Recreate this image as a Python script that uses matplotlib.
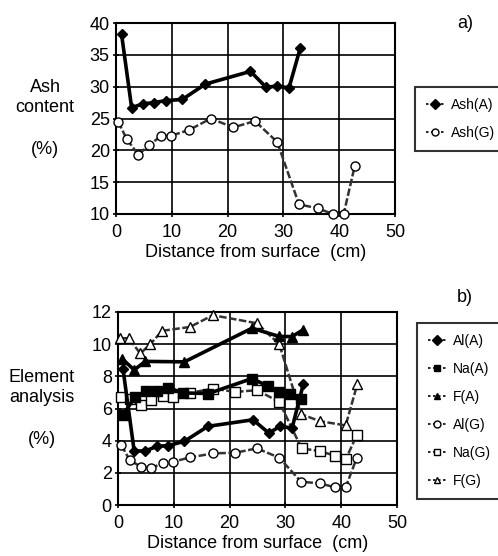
import matplotlib
matplotlib.use("Agg")
import matplotlib.pyplot as plt
from matplotlib.lines import Line2D

plt.rcParams['font.family'] = ['Liberation Sans', 'DejaVu Sans']

# ---- data (a) ----
ash_a_x = [1.0, 2.8, 4.8, 6.8, 8.9, 11.9, 16.0, 24.1, 26.9, 28.9, 31.0, 33.0]
ash_a_y = [38.2, 26.7, 27.3, 27.5, 27.8, 28.0, 30.4, 32.4, 29.9, 30.1, 29.8, 36.0]
ash_g_x = [0.4, 1.9, 4.0, 5.9, 8.0, 9.9, 13.1, 17.0, 21.0, 24.9, 28.9, 32.8, 36.2, 38.8, 40.8, 42.8]
ash_g_y = [24.5, 21.8, 19.3, 20.8, 22.2, 22.3, 23.2, 25.0, 23.6, 24.6, 21.3, 11.5, 10.9, 10.0, 10.0, 17.6]

# ---- data (b) ----
al_a_x = [0.9, 2.9, 4.9, 7.0, 9.0, 11.9, 16.1, 24.2, 27.0, 29.1, 31.2, 33.2]
al_a_y = [8.45, 3.36, 3.36, 3.65, 3.69, 3.96, 4.89, 5.3, 4.48, 4.89, 4.79, 7.5]
na_a_x = [0.9, 3.0, 5.1, 7.0, 9.0, 11.6, 16.2, 24.0, 26.8, 28.9, 30.8, 32.8]
na_a_y = [5.59, 6.7, 7.1, 7.1, 7.3, 6.97, 6.93, 7.86, 7.41, 7.03, 6.89, 6.62]
f_a_x = [0.8, 2.9, 4.9, 11.9, 24.0, 28.9, 31.2, 33.2]
f_a_y = [9.07, 8.4, 8.93, 8.9, 10.99, 10.48, 10.47, 10.9]
al_g_x = [0.6, 2.1, 4.1, 6.0, 8.0, 9.9, 12.9, 17.1, 21.0, 24.9, 28.9, 32.8, 36.2, 38.9, 40.8, 42.8]
al_g_y = [3.72, 2.79, 2.38, 2.28, 2.63, 2.69, 2.96, 3.21, 3.25, 3.52, 2.94, 1.45, 1.34, 1.1, 1.1, 2.94]
na_g_x = [0.6, 2.1, 4.1, 6.0, 8.0, 9.9, 12.9, 17.1, 21.0, 24.9, 28.9, 32.9, 36.2, 38.9, 40.8, 42.8]
na_g_y = [6.72, 6.62, 6.2, 6.52, 6.79, 6.72, 6.97, 7.24, 7.03, 7.14, 6.41, 3.52, 3.35, 3.06, 2.83, 4.35]
f_g_x = [0.3, 1.9, 4.0, 5.8, 7.9, 12.9, 17.0, 24.9, 28.9, 32.8, 36.2, 40.8, 42.9]
f_g_y = [10.37, 10.37, 9.42, 10.0, 10.83, 11.07, 11.8, 11.3, 10.0, 5.65, 5.21, 4.95, 7.53]

x_ticks = [0, 10, 20, 30, 40, 50]
ya_ticks = [10, 15, 20, 25, 30, 35, 40]
yb_ticks = [0, 2, 4, 6, 8, 10, 12]

W, H = 498, 556
FS = 13
fig = plt.figure(figsize=(W / 100, H / 100), dpi=100)

def ax_rect(l, r, t, b):
    return [l / W, 1 - b / H, (r - l) / W, (b - t) / H]

axa = fig.add_axes(ax_rect(116, 395, 23, 214))
axb = fig.add_axes(ax_rect(118, 397, 312, 505))

A_STYLE = dict(color='black', lw=2.6, ls='-', markeredgecolor='black', clip_on=False, zorder=4)
G_STYLE = dict(color='#333333', lw=1.8, ls=(0, (3, 1)), markersize=6.5, markerfacecolor='white',
               markeredgecolor='black', markeredgewidth=1.0, clip_on=False, zorder=3)

axa.plot(ash_a_x, ash_a_y, marker='D', markerfacecolor='black', markersize=5.5, **A_STYLE, label='Ash(A)')
axa.plot(ash_g_x, ash_g_y, marker='o', **G_STYLE, label='Ash(G)')

axb.plot(al_a_x, al_a_y, marker='D', markerfacecolor='black', markersize=5.5, **A_STYLE, label='Al(A)')
axb.plot(na_a_x, na_a_y, marker='s', markerfacecolor='black', markersize=6.5, **A_STYLE, label='Na(A)')
axb.plot(f_a_x, f_a_y, marker='^', markerfacecolor='black', markersize=6.5, **A_STYLE, label='F(A)')
axb.plot(al_g_x, al_g_y, marker='o', **G_STYLE, label='Al(G)')
axb.plot(na_g_x, na_g_y, marker='s', **G_STYLE, label='Na(G)')
axb.plot(f_g_x, f_g_y, marker='^', **G_STYLE, label='F(G)')

for ax, yt in ((axa, ya_ticks), (axb, yb_ticks)):
    ax.set_xlim(0, 50)
    ax.set_ylim(yt[0], yt[-1])
    ax.set_xticks(x_ticks)
    ax.set_yticks(yt)
    ax.grid(True, color='black', lw=1.2)
    ax.set_axisbelow(True)
    for s in ax.spines.values():
        s.set_linewidth(1.5)
    ax.tick_params(direction='inout', length=5, width=1.2, labelsize=FS, pad=2)
    ax.tick_params(axis='x', pad=5)
    ax.set_xlabel('Distance from surface  (cm)', fontsize=FS, labelpad=2)

# y labels as free text
fig.text(45 / W, 1 - 87 / H, 'Ash', ha='center', va='center', fontsize=FS)
fig.text(45 / W, 1 - 108 / H, 'content', ha='center', va='center', fontsize=FS)
fig.text(45 / W, 1 - 150 / H, '(%)', ha='center', va='center', fontsize=FS)
fig.text(42 / W, 1 - 377 / H, 'Element', ha='center', va='center', fontsize=FS)
fig.text(42 / W, 1 - 397 / H, 'analysis', ha='center', va='center', fontsize=FS)
fig.text(42 / W, 1 - 440 / H, '(%)', ha='center', va='center', fontsize=FS)

fig.text(465 / W, 1 - 24 / H, 'a)', ha='center', va='center', fontsize=FS)
fig.text(465 / W, 1 - 297 / H, 'b)', ha='center', va='center', fontsize=FS)

def make_legend(ax, bbox, spacing):
    hs, ls = ax.get_legend_handles_labels()
    new = []
    for h in hs:
        new.append(Line2D([0], [0], color='black', lw=1.2, ls=(0, (1.5, 1.5)),
                          marker=h.get_marker(), markerfacecolor=h.get_markerfacecolor(),
                          markeredgecolor='black', markersize=5))
    leg = fig.legend(new, ls, loc='upper left', bbox_to_anchor=bbox, frameon=True,
                     fancybox=False, edgecolor='black', fontsize=10, handlelength=1.3,
                     handletextpad=0.5, borderpad=0.8, labelspacing=spacing,
                     borderaxespad=0)
    leg.get_frame().set_linewidth(1.5)
    return leg

make_legend(axa, (415 / W, 1 - 87 / H), 1.0)
make_legend(axb, (417 / W, 1 - 323 / H), 1.0)

fig.savefig('out.png', dpi=100)
